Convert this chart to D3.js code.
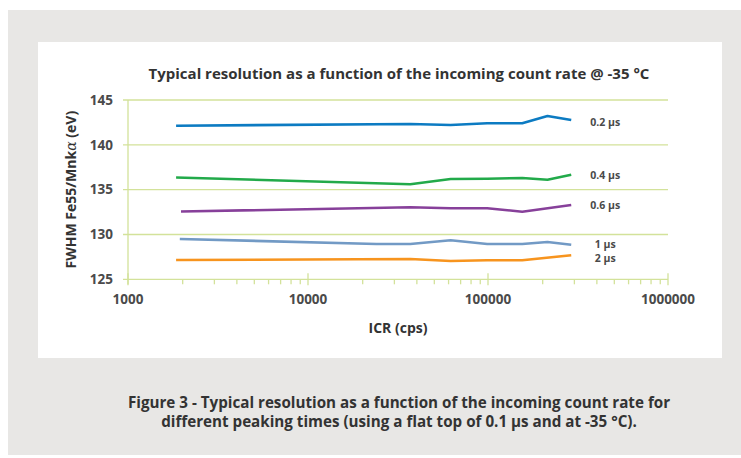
<!DOCTYPE html>
<html>
<head>
<meta charset="utf-8">
<script src="https://cdn.jsdelivr.net/npm/d3@7"></script>
<style>
  body { margin: 0; background: #fff; }
  text { font-family: "Open Sans", "Lato", sans-serif; }
</style>
</head>
<body>
<script>
// series: peaking time label, ICR (cps), FWHM (eV)
const peakLabels = ["0.2 µs", "0.4 µs", "0.6 µs", "1 µs", "2 µs"];
const colors = ["#0c7bc2", "#22aa4a", "#87409a", "#729ac5", "#f7941e"];

const icr02 = [1850, 37000, 62000, 99000, 155000, 214000, 290000];
const fwhm02 = [142.13, 142.32, 142.21, 142.40, 142.40, 143.22, 142.77];

const icr04 = [1850, 37000, 62000, 99000, 155000, 214000, 290000];
const fwhm04 = [136.36, 135.60, 136.19, 136.22, 136.30, 136.11, 136.67];

const icr06 = [1970, 37000, 62000, 99000, 155000, 290000];
const fwhm06 = [132.56, 133.03, 132.92, 132.92, 132.54, 133.29];

const icr1 = [1940, 24000, 37000, 62000, 99000, 155000, 214000, 290000];
const fwhm1 = [129.50, 128.94, 128.94, 129.35, 128.94, 128.94, 129.16, 128.86];

const icr2 = [1850, 37000, 62000, 99000, 155000, 290000];
const fwhm2 = [127.15, 127.26, 127.04, 127.12, 127.12, 127.68];

// where each series label sits (eV)
const labelAt = [142.5, 136.6, 133.2, 128.95, 127.3];

const yTicks = [125, 130, 135, 140, 145];
const xMajor = [1000, 10000, 100000, 1000000];

const width = 741, height = 458;
const svg = d3.select("body").append("svg")
    .attr("width", width)
    .attr("height", height);

// grey page + white chart panel
svg.append("rect").attr("x", 8).attr("y", 10).attr("width", 733).attr("height", 445).attr("fill", "#e8e7e5");
svg.append("rect").attr("x", 38).attr("y", 42).attr("width", 684).attr("height", 316).attr("fill", "#fff");

const pLeft = 128, pRight = 668, pTop = 100, pBottom = 279.3;

var x = d3.scaleLog().domain([1000, 1000000]).range([pLeft, pRight]);
var y = d3.scaleLinear().domain([125, 145]).range([pBottom, pTop]);

const gridColor = "#d3e29a";
const textColor = "#4a4a4a";

// horizontal grid
svg.append("g").selectAll("line").data(yTicks).enter()
    .append("line")
    .attr("x1", pLeft - 5).attr("x2", pRight)
    .attr("y1", d => y(d)).attr("y2", d => y(d))
    .attr("stroke", gridColor).attr("stroke-width", 1.3);

// y axis line
svg.append("line")
    .attr("x1", pLeft).attr("x2", pLeft).attr("y1", pTop).attr("y2", pBottom + 5)
    .attr("stroke", gridColor).attr("stroke-width", 1.3);

// y tick labels
svg.append("g").selectAll("text").data(yTicks).enter()
    .append("text")
    .attr("x", pLeft - 15)
    .attr("y", d => y(d))
    .attr("dy", "0.35em")
    .attr("text-anchor", "end")
    .attr("font-size", 13.5)
    .attr("font-weight", 700)
    .attr("fill", textColor)
    .text(d => d);

// x axis: minor ticks through d3 axis, labels only on decades
let minor = [];
for (let dec = 1000; dec < 1000000; dec *= 10)
    for (let k = 2; k <= 9; k++) minor.push(dec * k);

var xaxis = d3.axisBottom(x).tickValues(minor).tickSize(5).tickFormat("");
let gx = svg.append("g").attr("transform", "translate(0," + pBottom + ")").call(xaxis);
gx.select(".domain").remove();
gx.selectAll("line").attr("stroke", gridColor).attr("stroke-width", 1.3);

svg.append("g").selectAll("line").data(xMajor).enter()
    .append("line")
    .attr("x1", d => x(d)).attr("x2", d => x(d))
    .attr("y1", pBottom - 6).attr("y2", pBottom + 6)
    .attr("stroke", gridColor).attr("stroke-width", 1.3);

svg.append("g").selectAll("text").data(xMajor).enter()
    .append("text")
    .attr("x", d => x(d))
    .attr("y", pBottom + 25)
    .attr("text-anchor", "middle")
    .attr("font-size", 13.5)
    .attr("font-weight", 700)
    .attr("fill", textColor)
    .text(d => d);

// lines
const series = [
    {icr: icr02, fwhm: fwhm02},
    {icr: icr04, fwhm: fwhm04},
    {icr: icr06, fwhm: fwhm06},
    {icr: icr1, fwhm: fwhm1},
    {icr: icr2, fwhm: fwhm2}
];

const line = d3.line().x(d => x(d[0])).y(d => y(d[1]));

svg.append("g").selectAll("path").data(series).enter()
    .append("path")
    .attr("d", s => line(s.icr.map((v, i) => [v, s.fwhm[i]])))
    .attr("fill", "none")
    .attr("stroke", (s, i) => colors[i])
    .attr("stroke-width", 2.6)
    .attr("stroke-linejoin", "round");

svg.append("g").selectAll("text").data(peakLabels).enter()
    .append("text")
    .attr("x", x(290000) + 34)
    .attr("y", (d, i) => y(labelAt[i]))
    .attr("dy", "0.35em")
    .attr("text-anchor", "middle")
    .attr("font-size", 10.5)
    .attr("font-weight", 700)
    .attr("fill", textColor)
    .text(d => d);

// titles
svg.append("text")
    .attr("x", 399).attr("y", 79)
    .attr("text-anchor", "middle")
    .attr("font-size", 15)
    .attr("font-weight", 700)
    .attr("fill", "#333")
    .text("Typical resolution as a function of the incoming count rate @ -35 °C");

svg.append("text")
    .attr("x", 398).attr("y", 333)
    .attr("text-anchor", "middle")
    .attr("font-size", 14)
    .attr("font-weight", 700)
    .attr("fill", "#333")
    .text("ICR (cps)");

let yt = svg.append("text")
    .attr("transform", "translate(76," + ((pTop + pBottom) / 2) + ") rotate(-90)")
    .attr("text-anchor", "middle")
    .attr("font-size", 14)
    .attr("font-weight", 700)
    .attr("fill", "#333");
yt.append("tspan").text("FWHM Fe55/Mnk");
yt.append("tspan").attr("font-family", "DejaVu Serif").attr("font-weight", 400).attr("font-style", "italic").text("α");
yt.append("tspan").text(" (eV)");

// caption
const caption = ["Figure 3 - Typical resolution as a function of the incoming count rate for",
                 "different peaking times (using a flat top of 0.1 µs and at -35 °C)."];
svg.append("g").selectAll("text").data(caption).enter()
    .append("text")
    .attr("x", 399)
    .attr("y", (d, i) => 408 + i * 19)
    .attr("text-anchor", "middle")
    .attr("font-size", 15.2)
    .attr("font-weight", 700)
    .attr("fill", "#333")
    .text(d => d);
</script>
</body>
</html>
